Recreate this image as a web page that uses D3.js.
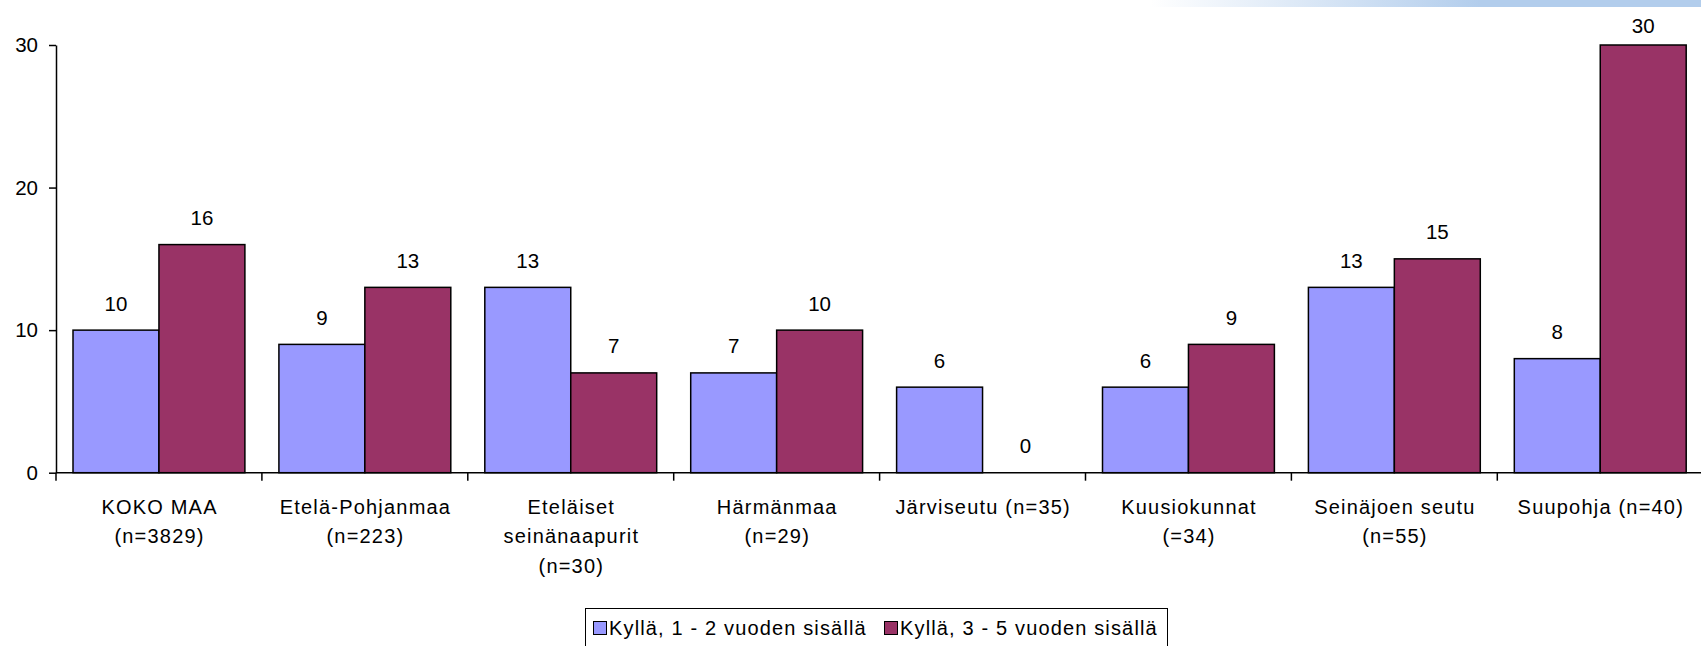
<!DOCTYPE html>
<html>
<head>
<meta charset="utf-8">
<script src="https://cdn.jsdelivr.net/npm/d3@7"></script>
<style>
  html, body { margin: 0; padding: 0; background: #fff; }
  svg { display: block; }
</style>
</head>
<body>
<svg id="chart" width="1701" height="646"></svg>
<script>
const categories = [
  "KOKO MAA\n(n=3829)",
  "Etelä-Pohjanmaa\n(n=223)",
  "Eteläiset\nseinänaapurit\n(n=30)",
  "Härmänmaa\n(n=29)",
  "Järviseutu (n=35)",
  "Kuusiokunnat\n(=34)",
  "Seinäjoen seutu\n(n=55)",
  "Suupohja (n=40)"
];
const seriesNames = ["Kyllä, 1 - 2 vuoden sisällä", "Kyllä, 3 - 5 vuoden sisällä"];
const series1 = [10, 9, 13, 7, 6, 6, 13, 8];
const series2 = [16, 13, 7, 10, 0, 9, 15, 30];
const yTicks = [0, 10, 20, 30];

const colors = ["#9999FF", "#993366"];
const font = "'Liberation Sans', Arial, sans-serif";

const svg = d3.select("#chart");

// decorative gradient strip at top right
const defs = svg.append("defs");
const grad = defs.append("linearGradient").attr("id", "topgrad")
  .attr("x1", "0").attr("x2", "1").attr("y1", "0").attr("y2", "0");
grad.append("stop").attr("offset", "0").attr("stop-color", "#ffffff");
grad.append("stop").attr("offset", "0.6").attr("stop-color", "#b2cdec");
grad.append("stop").attr("offset", "1").attr("stop-color", "#b2cdec");
svg.append("rect").attr("x", 1150).attr("y", 0).attr("width", 551).attr("height", 7)
  .attr("fill", "url(#topgrad)");

const left = 56, catW = 205.9;
const y0 = 472.7;
const x0 = d3.scaleBand().domain(categories).range([left, left + categories.length * catW]).padding(0);
const bw = x0.bandwidth();
const x1 = d3.scaleBand().domain([0, 1]).range([bw * 0.0826, bw * 0.9174]).padding(0);
const y = d3.scaleLinear().domain([0, 30]).range([y0, 45]);

// y axis
const yAxis = svg.append("g").attr("transform", `translate(${left},0)`)
  .call(d3.axisLeft(y).tickValues(yTicks).tickSize(7).tickSizeOuter(0).tickPadding(11));
yAxis.select(".domain").attr("stroke", "#000").attr("stroke-width", 1.5);
yAxis.selectAll(".tick line").attr("stroke", "#000").attr("stroke-width", 1.5);
yAxis.selectAll(".tick text").attr("font-family", font).attr("font-size", "20.5px").attr("fill", "#000");

// bars
const rows = categories.map((c, i) => ({ c, vals: [series1[i], series2[i]] }));
const groups = svg.append("g").selectAll("g").data(rows).join("g")
  .attr("transform", d => `translate(${x0(d.c)},0)`);
groups.selectAll("rect").data(d => d.vals.map((v, k) => ({ v, k }))).join("rect")
  .attr("x", d => x1(d.k))
  .attr("y", d => y(d.v))
  .attr("width", x1.bandwidth())
  .attr("height", d => y0 - y(d.v))
  .attr("fill", d => colors[d.k])
  .attr("stroke", d => d.v > 0 ? "#000" : "none")
  .attr("stroke-width", 1.5);
groups.selectAll("text.val").data(d => d.vals.map((v, k) => ({ v, k }))).join("text")
  .attr("class", "val")
  .attr("x", d => x1(d.k) + x1.bandwidth() / 2)
  .attr("y", d => Math.max(y(d.v) - 19.5, 33))
  .attr("text-anchor", "middle")
  .attr("font-family", font).attr("font-size", "20.5px").attr("fill", "#000")
  .text(d => d.v);

// x axis
const xg = svg.append("g");
xg.append("line").attr("x1", left).attr("x2", 1701).attr("y1", y0).attr("y2", y0)
  .attr("stroke", "#000").attr("stroke-width", 1.5);
xg.selectAll("line.tk").data(d3.range(categories.length + 1)).join("line")
  .attr("class", "tk")
  .attr("x1", i => left + i * bw).attr("x2", i => left + i * bw)
  .attr("y1", y0).attr("y2", y0 + 8)
  .attr("stroke", "#000").attr("stroke-width", 1.5);

// category labels
const labels = xg.selectAll("text.cat").data(categories).join("text")
  .attr("class", "cat")
  .attr("text-anchor", "middle")
  .attr("font-family", font).attr("font-size", "20px").attr("fill", "#000")
  .attr("letter-spacing", "1.2px");
labels.each(function (c) {
  const t = d3.select(this);
  c.split("\n").forEach((line, j) => {
    t.append("tspan").attr("x", x0(c) + bw / 2 + 0.6).attr("y", 514 + j * 29.3).text(line);
  });
});

// legend
const lg = svg.append("g");
lg.append("rect").attr("x", 585.5).attr("y", 608.5).attr("width", 582).attr("height", 60)
  .attr("fill", "#fff").attr("stroke", "#000").attr("stroke-width", 1);
const legX = [593, 884];
seriesNames.forEach((name, k) => {
  lg.append("rect").attr("x", legX[k] + 0.5).attr("y", 621.5).attr("width", 13).attr("height", 13)
    .attr("fill", colors[k]).attr("stroke", "#000").attr("stroke-width", 1);
  lg.append("text").attr("x", legX[k] + 16).attr("y", 635)
    .attr("font-family", font).attr("font-size", "20px").attr("fill", "#000")
    .attr("letter-spacing", "1.15px")
    .text(name);
});
</script>
</body>
</html>
